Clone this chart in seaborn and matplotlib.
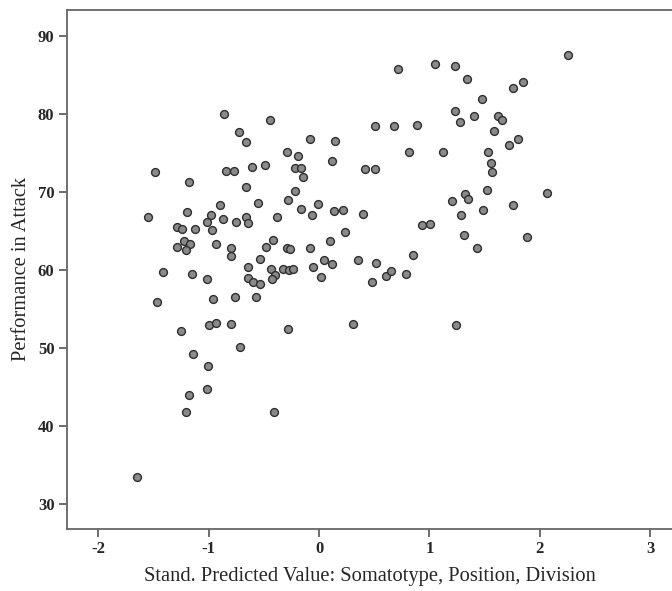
import matplotlib
matplotlib.use("Agg")
import matplotlib.pyplot as plt
import seaborn as sns
import pandas as pd

predicted = [
    -0.863, -0.727, -0.664, -1.483, -0.845, -0.767, -0.604, -1.180, -0.664, -1.552,
    -0.899, -1.196, -0.981, -1.289, -1.244, -1.126, -1.017, -0.966, -0.872, -0.752,
    -0.661, -0.640, -1.220, -1.166, -1.284, -0.933, -0.794, 0.713, 1.051, -0.444,
    -0.084, 0.145, 0.507, 0.679, 0.885, -0.287, -0.193, 0.120, 0.815, 1.126,
    -0.489, -0.217, -0.163, -0.148, 0.417, 0.507, -0.220, -0.281, -0.553, -0.009,
    -0.166, -0.061, 0.133, 0.220, 0.399, 1.205, -0.378, 0.936, 1.005, 0.236,
    -0.417, -0.477, -0.293, -0.263, -0.082, 0.097, 2.253, 1.235, 1.338, 1.755,
    1.845, 1.479, 1.235, 1.401, 1.280, 1.619, 1.660, 1.588, 1.718, 1.800,
    1.534, 1.561, 1.570, 1.322, 1.347, 1.522, 2.065, 1.486, 1.760, 1.284,
    1.311, 1.884, 1.431, -1.207, -0.794, -0.646, -0.646, -1.410, -1.148, -1.014,
    -1.470, -0.963, -0.761, -1.247, -0.994, -0.930, -0.800, -1.139, -0.713, -1.003,
    -1.012, -1.178, -1.207, -1.651, -0.537, -0.435, -0.396, -0.423, -0.323, -0.274,
    -0.236, -0.598, -0.532, -0.057, 0.048, 0.115, 0.018, 0.353, 0.514, 0.849,
    0.483, 0.607, 0.652, 0.785, -0.573, -0.281, 0.311, -0.410, 1.241,
]
attack = [
    80.00, 77.65, 76.41, 72.53, 72.69, 72.69, 73.21, 71.21, 70.64, 66.72,
    68.26, 67.36, 67.05, 65.51, 65.18, 65.22, 66.12, 65.05, 66.46, 66.12,
    66.72, 66.03, 63.68, 63.26, 62.95, 63.26, 62.74, 85.73, 86.37, 79.19,
    76.76, 76.54, 78.38, 78.38, 78.59, 75.05, 74.62, 73.90, 75.05, 75.05,
    73.42, 73.00, 73.00, 71.92, 72.95, 72.95, 70.05, 68.94, 68.59, 68.38,
    67.82, 67.01, 67.56, 67.69, 67.18, 68.81, 66.72, 65.69, 65.86, 64.83,
    63.77, 62.87, 62.74, 62.62, 62.74, 63.72, 87.53, 86.12, 84.41, 83.33,
    84.10, 81.85, 80.31, 79.71, 78.90, 79.74, 79.19, 77.82, 75.99, 76.76,
    75.05, 73.64, 72.53, 69.71, 69.10, 70.22, 69.79, 67.69, 68.26, 67.01,
    64.45, 64.19, 62.74, 62.53, 61.72, 60.38, 58.90, 59.71, 59.45, 58.77,
    55.90, 56.24, 56.50, 52.18, 52.87, 53.21, 53.00, 49.15, 50.13, 47.62,
    44.74, 43.90, 41.79, 33.46, 61.41, 60.09, 59.32, 58.81, 60.09, 59.96,
    60.09, 58.42, 58.21, 60.31, 61.24, 60.73, 59.03, 61.20, 60.90, 61.92,
    58.42, 59.23, 59.83, 59.45, 56.46, 52.36, 53.04, 41.79, 52.87,
]
x_ticks = [-2, -1, 0, 1, 2, 3]
y_ticks = [30, 40, 50, 60, 70, 80, 90]
x_label = "Stand. Predicted Value: Somatotype, Position, Division"
y_label = "Performance in Attack"

df = pd.DataFrame({"pred": predicted, "attack": attack})

sns.set_style("white")
plt.rcParams["font.family"] = ["Liberation Serif", "DejaVu Serif"]

fig = plt.figure(figsize=(6.72, 5.91), dpi=100)
ax = fig.add_axes([67 / 672, 1 - 528.7 / 591, 1 - 67 / 672, (528.7 - 10) / 591])

sns.scatterplot(data=df, x="pred", y="attack", ax=ax, color="#8a8a8a",
                edgecolor="#2e2e2e", linewidth=1.0, s=32, zorder=3)

ax.set_xlim(-2.283, 3.197)
ax.set_ylim(26.79, 93.29)
ax.set_xticks(x_ticks)
ax.set_yticks(y_ticks)
ax.set_xticklabels([str(t) for t in x_ticks], fontsize=12, fontweight="bold")
ax.set_yticklabels([str(t) for t in y_ticks], fontsize=12, fontweight="bold")
ax.tick_params(axis="both", direction="out", length=6, width=1.2, color="#555555",
               left=True, bottom=True, pad=3)
ax.set_xlabel(x_label, fontsize=14.8, labelpad=7)
ax.set_ylabel(y_label, fontsize=14.8, labelpad=5)

for side in ["left", "bottom", "top"]:
    ax.spines[side].set_color("#666666")
    ax.spines[side].set_linewidth(1.3)
ax.spines["right"].set_visible(False)
ax.grid(False)

fig.savefig("out.png", dpi=100)
